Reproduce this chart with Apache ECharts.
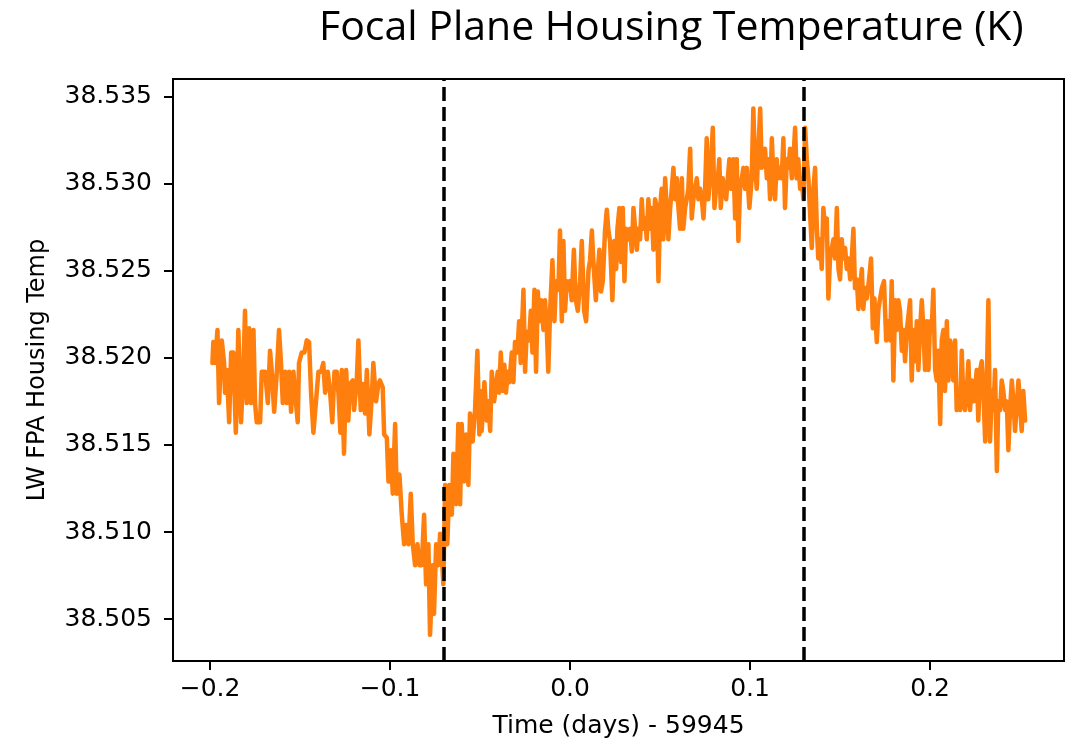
<!DOCTYPE html>
<html>
<head>
<meta charset="utf-8">
<title>Focal Plane Housing Temperature (K)</title>
<script src="https://cdn.jsdelivr.net/npm/echarts@6/dist/echarts.min.js"></script>
<style>
  html, body { margin: 0; padding: 0; background: #ffffff; }
  #chart { width: 1077px; height: 746px; }
</style>
</head>
<body>
<div id="chart"></div>
<script>
// Time since MJD 59945, in days
const timeDays = [
  -0.1987, -0.1982, -0.1972, -0.1959, -0.1950, -0.1935, -0.1922, -0.1917, -0.1907, -0.1894,
  -0.1883, -0.1871, -0.1857, -0.1843, -0.1828, -0.1815, -0.1806, -0.1796, -0.1783, -0.1772,
  -0.1759, -0.1750, -0.1741, -0.1722, -0.1713, -0.1694, -0.1679, -0.1667, -0.1657, -0.1644,
  -0.1629, -0.1617, -0.1606, -0.1596, -0.1583, -0.1574, -0.1561, -0.1550, -0.1537, -0.1528,
  -0.1513, -0.1506, -0.1491, -0.1476, -0.1463, -0.1450, -0.1439, -0.1426, -0.1417, -0.1398,
  -0.1383, -0.1371, -0.1361, -0.1346, -0.1333, -0.1321, -0.1309, -0.1296, -0.1287, -0.1276,
  -0.1268, -0.1256, -0.1244, -0.1232, -0.1222, -0.1207, -0.1200, -0.1185, -0.1176, -0.1163,
  -0.1152, -0.1139, -0.1129, -0.1115, -0.1102, -0.1093, -0.1078, -0.1065, -0.1056, -0.1041,
  -0.1033, -0.1018, -0.1009, -0.0996, -0.0985, -0.0972, -0.0963, -0.0948, -0.0935, -0.0922,
  -0.0911, -0.0898, -0.0885, -0.0874, -0.0861, -0.0848, -0.0837, -0.0824, -0.0811, -0.0800,
  -0.0787, -0.0778, -0.0763, -0.0756, -0.0744, -0.0732, -0.0722, -0.0713, -0.0704, -0.0694,
  -0.0682, -0.0671, -0.0657, -0.0648, -0.0633, -0.0621, -0.0611, -0.0602, -0.0589, -0.0578,
  -0.0565, -0.0556, -0.0541, -0.0528, -0.0515, -0.0504,
  -0.0500, -0.0491, -0.0476, -0.0463, -0.0454, -0.0444, -0.0435, -0.0422, -0.0413, -0.0402,
  -0.0394, -0.0385, -0.0374, -0.0365, -0.0356, -0.0346, -0.0337, -0.0324, -0.0315, -0.0306,
  -0.0293, -0.0283, -0.0274, -0.0268, -0.0259, -0.0250, -0.0241, -0.0228, -0.0218, -0.0209,
  -0.0198, -0.0189, -0.0179, -0.0171, -0.0161, -0.0148, -0.0139, -0.0129, -0.0121, -0.0111,
  -0.0098, -0.0087, -0.0078, -0.0065, -0.0056, -0.0046, -0.0037, -0.0028, -0.0018, -0.0009,
  0.0000, 0.0009, 0.0021, 0.0032, 0.0043, 0.0056, 0.0065, 0.0078, 0.0089, 0.0102,
  0.0111, 0.0121, 0.0129, 0.0143, 0.0154, 0.0163, 0.0172, 0.0182, 0.0194, 0.0204,
  0.0213, 0.0222, 0.0235, 0.0246,
  0.0256, 0.0263, 0.0274, 0.0283, 0.0293, 0.0302, 0.0311, 0.0324, 0.0333, 0.0343,
  0.0352, 0.0361, 0.0371, 0.0379, 0.0389, 0.0398, 0.0407, 0.0417, 0.0426, 0.0435,
  0.0444, 0.0454, 0.0463, 0.0472, 0.0482, 0.0491, 0.0500, 0.0509, 0.0518, 0.0528,
  0.0537, 0.0546, 0.0556, 0.0565, 0.0574, 0.0583, 0.0593, 0.0602, 0.0611, 0.0621,
  0.0629, 0.0639, 0.0648, 0.0657, 0.0667, 0.0676, 0.0685, 0.0694, 0.0704, 0.0713,
  0.0722, 0.0732, 0.0741, 0.0750, 0.0759, 0.0768, 0.0778, 0.0793, 0.0802, 0.0811,
  0.0821, 0.0829, 0.0837, 0.0848, 0.0857, 0.0867, 0.0876, 0.0885, 0.0894, 0.0907,
  0.0917, 0.0926, 0.0935, 0.0944, 0.0954, 0.0963, 0.0972, 0.0982, 0.0996,
  0.1009, 0.1018, 0.1028, 0.1037, 0.1046, 0.1056, 0.1065, 0.1074, 0.1083, 0.1093,
  0.1102, 0.1111, 0.1121, 0.1129, 0.1139, 0.1148, 0.1157, 0.1167, 0.1176, 0.1185,
  0.1194, 0.1204, 0.1213, 0.1222, 0.1232, 0.1241, 0.1250, 0.1259, 0.1268, 0.1278,
  0.1287, 0.1296, 0.1306, 0.1315, 0.1324, 0.1333, 0.1343, 0.1352, 0.1361, 0.1371,
  0.1379, 0.1389, 0.1398, 0.1407, 0.1417, 0.1426, 0.1435, 0.1444, 0.1454, 0.1463,
  0.1472, 0.1482, 0.1491, 0.1500, 0.1509, 0.1518, 0.1528, 0.1537, 0.1546, 0.1556,
  0.1565, 0.1574, 0.1583, 0.1593, 0.1602, 0.1611, 0.1621, 0.1629, 0.1639, 0.1648,
  0.1661, 0.1672, 0.1682, 0.1691, 0.1704, 0.1713, 0.1722, 0.1732,
  0.1744, 0.1756, 0.1768, 0.1778, 0.1787, 0.1796, 0.1806, 0.1815, 0.1824, 0.1833,
  0.1843, 0.1852, 0.1861, 0.1871, 0.1879, 0.1889, 0.1898, 0.1907, 0.1917, 0.1926,
  0.1935, 0.1944, 0.1954, 0.1963, 0.1972, 0.1982, 0.1991, 0.2000, 0.2009, 0.2018,
  0.2028, 0.2037, 0.2046, 0.2056, 0.2065, 0.2074, 0.2083, 0.2093, 0.2102, 0.2111,
  0.2121, 0.2129, 0.2139, 0.2148, 0.2157, 0.2167, 0.2176, 0.2185, 0.2194, 0.2204,
  0.2213, 0.2222, 0.2232, 0.2241, 0.2250, 0.2259, 0.2268, 0.2278, 0.2287, 0.2296,
  0.2306, 0.2315, 0.2324, 0.2333, 0.2343, 0.2352, 0.2361, 0.2371, 0.2379, 0.2389,
  0.2398, 0.2407, 0.2417, 0.2426, 0.2435, 0.2444, 0.2454, 0.2463, 0.2472, 0.2482,
  0.2491, 0.2500, 0.2509, 0.2518, 0.2528
];

// LW focal plane array housing temperature, in kelvin
const housingTemp = [
  38.5197, 38.5209, 38.5197, 38.5216, 38.5174, 38.5210, 38.5197, 38.5180, 38.5193, 38.5163,
  38.5203, 38.5203, 38.5157, 38.5216, 38.5163, 38.5192, 38.5227, 38.5174, 38.5217, 38.5174,
  38.5216, 38.5174, 38.5163, 38.5163, 38.5192, 38.5192, 38.5174, 38.5204, 38.5192, 38.5169,
  38.5192, 38.5216, 38.5197, 38.5174, 38.5192, 38.5174, 38.5192, 38.5169, 38.5192, 38.5180,
  38.5163, 38.5197, 38.5203, 38.5203, 38.5210, 38.5209, 38.5180, 38.5157, 38.5157, 38.5192,
  38.5192, 38.5197, 38.5180, 38.5192, 38.5180, 38.5163, 38.5192, 38.5192, 38.5180, 38.5157,
  38.5193, 38.5145, 38.5193, 38.5164, 38.5185, 38.5187, 38.5170, 38.5187, 38.5210, 38.5170,
  38.5185, 38.5168, 38.5193, 38.5156, 38.5177, 38.5197, 38.5175, 38.5185, 38.5187, 38.5183,
  38.5156, 38.5154, 38.5129, 38.5147, 38.5122, 38.5162, 38.5122, 38.5133, 38.5110, 38.5093,
  38.5104, 38.5093, 38.5122, 38.5093, 38.5081, 38.5093, 38.5081, 38.5081, 38.5110, 38.5070,
  38.5093, 38.5041, 38.5081, 38.5053, 38.5093, 38.5081, 38.5099, 38.5087, 38.5070, 38.5127,
  38.5093, 38.5127, 38.5110, 38.5145, 38.5116, 38.5162, 38.5116, 38.5162, 38.5129, 38.5156,
  38.5127, 38.5168, 38.5152, 38.5170, 38.5204, 38.5156,
  38.5181, 38.5158, 38.5186, 38.5164, 38.5175, 38.5158, 38.5192, 38.5175, 38.5175, 38.5192,
  38.5180, 38.5203, 38.5181, 38.5196, 38.5180, 38.5192, 38.5186, 38.5203, 38.5186, 38.5209,
  38.5203, 38.5221, 38.5197, 38.5215, 38.5239, 38.5192, 38.5215, 38.5210, 38.5227, 38.5203,
  38.5239, 38.5192, 38.5238, 38.5221, 38.5233, 38.5216, 38.5233, 38.5215, 38.5192, 38.5227,
  38.5256, 38.5221, 38.5244, 38.5239, 38.5273, 38.5221, 38.5267, 38.5227, 38.5244, 38.5239,
  38.5244, 38.5233, 38.5262, 38.5233, 38.5227, 38.5244, 38.5267, 38.5227, 38.5221, 38.5250,
  38.5256, 38.5273, 38.5256, 38.5233, 38.5250, 38.5262, 38.5238, 38.5244, 38.5273, 38.5285,
  38.5273, 38.5267, 38.5233, 38.5267,
  38.5251, 38.5274, 38.5286, 38.5255, 38.5286, 38.5244, 38.5274, 38.5268, 38.5274, 38.5261,
  38.5286, 38.5285, 38.5262, 38.5274, 38.5268, 38.5291, 38.5274, 38.5280, 38.5268, 38.5291,
  38.5274, 38.5286, 38.5262, 38.5291, 38.5286, 38.5244, 38.5286, 38.5297, 38.5268, 38.5303,
  38.5286, 38.5268, 38.5286, 38.5297, 38.5309, 38.5291, 38.5303, 38.5286, 38.5274, 38.5303,
  38.5274, 38.5286, 38.5291, 38.5297, 38.5320, 38.5280, 38.5291, 38.5297, 38.5303, 38.5291,
  38.5297, 38.5291, 38.5280, 38.5297, 38.5326, 38.5291, 38.5303, 38.5332, 38.5286, 38.5297,
  38.5303, 38.5314, 38.5286, 38.5303, 38.5303, 38.5291, 38.5291, 38.5314, 38.5297, 38.5314,
  38.5280, 38.5314, 38.5267, 38.5297, 38.5303, 38.5309, 38.5297, 38.5309, 38.5286,
  38.5303, 38.5343, 38.5309, 38.5297, 38.5297, 38.5343, 38.5309, 38.5314, 38.5320, 38.5303,
  38.5314, 38.5291, 38.5326, 38.5303, 38.5291, 38.5314, 38.5303, 38.5309, 38.5303, 38.5326,
  38.5286, 38.5314, 38.5309, 38.5320, 38.5303, 38.5314, 38.5332, 38.5303, 38.5314, 38.5297,
  38.5303, 38.5291, 38.5332, 38.5314, 38.5303, 38.5303, 38.5263, 38.5297, 38.5309, 38.5274,
  38.5257, 38.5268, 38.5251, 38.5286, 38.5274, 38.5280, 38.5234, 38.5257, 38.5263, 38.5268,
  38.5257, 38.5286, 38.5251, 38.5245, 38.5268, 38.5257, 38.5263, 38.5251, 38.5257, 38.5245,
  38.5257, 38.5274, 38.5240, 38.5245, 38.5228, 38.5240, 38.5251, 38.5228, 38.5240, 38.5234,
  38.5245, 38.5257, 38.5217, 38.5234, 38.5209, 38.5228, 38.5228, 38.5240,
  38.5244, 38.5210, 38.5221, 38.5210, 38.5244, 38.5187, 38.5233, 38.5216, 38.5233, 38.5227,
  38.5204, 38.5216, 38.5198, 38.5216, 38.5216, 38.5233, 38.5187, 38.5216, 38.5198, 38.5221,
  38.5193, 38.5216, 38.5233, 38.5216, 38.5193, 38.5221, 38.5193, 38.5221, 38.5216, 38.5239,
  38.5193, 38.5187, 38.5204, 38.5162, 38.5210, 38.5216, 38.5181, 38.5221, 38.5187, 38.5210,
  38.5204, 38.5187, 38.5210, 38.5170, 38.5181, 38.5170, 38.5204, 38.5175, 38.5170, 38.5181,
  38.5198, 38.5170, 38.5187, 38.5175, 38.5181, 38.5193, 38.5164, 38.5193, 38.5198, 38.5181,
  38.5152, 38.5187, 38.5233, 38.5152, 38.5181, 38.5170, 38.5193, 38.5135, 38.5175, 38.5170,
  38.5187, 38.5181, 38.5170, 38.5175, 38.5147, 38.5170, 38.5187, 38.5175, 38.5158, 38.5158,
  38.5187, 38.5187, 38.5158, 38.5181, 38.5164
];

// Event boundaries marked with dashed vertical lines (days)
const eventTimes = [-0.0722, 0.1278];

// Tick positions
const xTicks = [-0.2, -0.1, 0.0, 0.1, 0.2];
const yTicks = [38.505, 38.510, 38.515, 38.520, 38.525, 38.530, 38.535];

const seriesData = timeDays.map((t, i) => [t, housingTemp[i]]);

const labelFont = 'DejaVu Sans';
const chart = echarts.init(document.getElementById('chart'), null, { renderer: 'canvas' });

chart.setOption({
  animation: false,
  backgroundColor: '#ffffff',
  title: {
    text: 'Focal Plane Housing Temperature (K)',
    left: 314,
    top: 3,
    textStyle: { fontFamily: 'Open Sans', fontSize: 41, fontWeight: 'normal', color: '#000000' }
  },
  grid: {
    left: 173, right: 13, top: 79, bottom: 85,
    show: true, borderColor: '#000000', borderWidth: 2, backgroundColor: 'transparent'
  },
  xAxis: {
    type: 'value',
    min: -0.2206,
    max: 0.2744,
    name: 'Time (days) - 59945',
    nameLocation: 'middle',
    nameGap: 53,
    nameTextStyle: { fontFamily: labelFont, fontSize: 25, color: '#000000' },
    axisLine: { show: true, onZero: false, lineStyle: { color: '#000000', width: 2 } },
    axisTick: { show: true, length: 9, lineStyle: { color: '#000000', width: 2 }, customValues: xTicks },
    axisLabel: {
      customValues: xTicks,
      fontFamily: labelFont, fontSize: 25, color: '#000000', margin: 16,
      formatter: v => (v < -1e-9 ? '\u2212' : '') + Math.abs(v).toFixed(1)
    },
    splitLine: { show: false }
  },
  yAxis: {
    type: 'value',
    min: 38.5026,
    max: 38.5360,
    name: 'LW FPA Housing Temp',
    nameLocation: 'middle',
    nameGap: 123,
    nameTextStyle: { fontFamily: labelFont, fontSize: 24, color: '#000000' },
    axisLine: { show: true, onZero: false, lineStyle: { color: '#000000', width: 2 } },
    axisTick: { show: true, length: 9, lineStyle: { color: '#000000', width: 2 }, customValues: yTicks },
    axisLabel: {
      customValues: yTicks,
      fontFamily: labelFont, fontSize: 25, color: '#000000', margin: 21,
      formatter: v => v.toFixed(3)
    },
    splitLine: { show: false }
  },
  series: [{
    type: 'line',
    data: seriesData,
    symbol: 'none',
    showSymbol: false,
    clip: true,
    lineStyle: { color: '#ff7f0e', width: 4.5, join: 'round', cap: 'round' },
    markLine: {
      silent: true,
      symbol: 'none',
      label: { show: false },
      lineStyle: { color: '#000000', width: 3.5, type: [14, 6] },
      data: eventTimes.map(t => ({ xAxis: t }))
    }
  }]
});
</script>
</body>
</html>
